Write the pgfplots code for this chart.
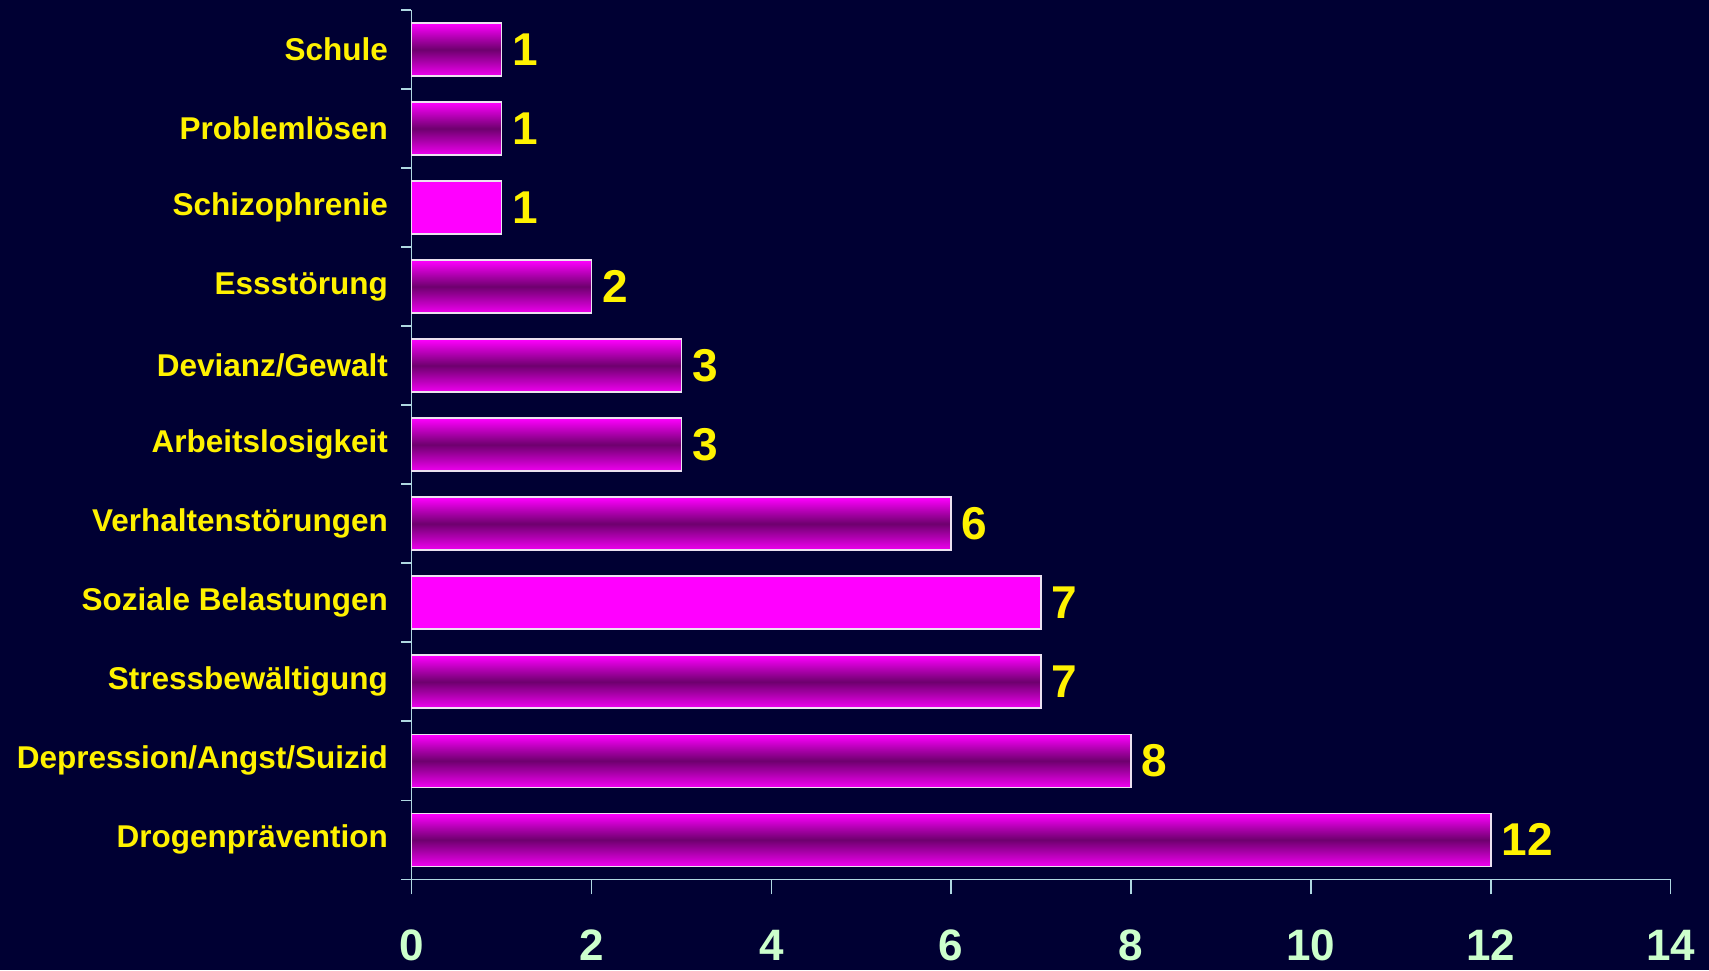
\documentclass[border=0pt]{standalone}
\usepackage{pgfplots}
\pgfplotsset{compat=1.18}
\usepackage{fontspec}
\setmainfont{Liberation Sans}
\definecolor{bg}{RGB}{0,0,51}
\definecolor{axcol}{RGB}{175,215,225}
\definecolor{tickcol}{RGB}{204,255,204}
\definecolor{mag}{RGB}{255,0,255}
\definecolor{magb}{RGB}{240,0,240}
\definecolor{magd}{RGB}{110,0,110}
\definecolor{barline}{RGB}{235,225,240}
\pgfplotsset{gbar/.style={draw=barline, line width=1.5pt, top color=mag, bottom color=magb, middle color=magd}}
\begin{document}
\begin{tikzpicture}
\fill[bg] (-411.5pt,-90.7pt) rectangle (1297.5pt,879.3pt);
\begin{axis}[
  at={(0pt,0pt)}, anchor=south west,
  scale only axis,
  width=1259.2pt, height=869.3pt,
  xmin=0, xmax=14, ymin=-0.5, ymax=10.5,
  axis x line*=bottom, axis y line*=left,
  axis line style={axcol, line width=1.5pt, -},
  xtick={0,2,...,14},
  ytick={0,...,10},
  yticklabels={Drogenprävention,Depression/Angst/Suizid,Stressbewältigung,Soziale Belastungen,Verhaltenstörungen,Arbeitslosigkeit,Devianz/Gewalt,Essstörung,Schizophrenie,Problemlösen,Schule},
  minor ytick={-0.5,0.5,...,10.5},
  tick align=outside,
  major tick length=15pt,
  minor tick length=10pt,
  major x tick style={axcol, line width=1.5pt},
  major y tick style={draw=none},
  minor y tick style={axcol, line width=1.5pt},
  xticklabel style={font=\fontsize{44}{48}\selectfont\bfseries, text=tickcol, anchor=center, yshift=-51pt},
  yticklabel style={font=\fontsize{31.5}{36}\selectfont\bfseries, text=yellow, anchor=east, xshift=-5pt},
  /pgf/number format/assume math mode=true,
  xbar, bar width=53pt, bar shift=0pt,
  nodes near coords,
  nodes near coords style={font=\fontsize{46}{50}\selectfont\bfseries, text=yellow, anchor=west, inner sep=0pt, xshift=10pt},
  clip=false,
]
\addplot[gbar] coordinates {(12,0)};
\addplot[gbar] coordinates {(8,1)};
\addplot[gbar] coordinates {(7,2)};
\addplot[draw=barline, line width=1.5pt, fill=mag] coordinates {(7,3)};
\addplot[gbar] coordinates {(6,4)};
\addplot[gbar] coordinates {(3,5)};
\addplot[gbar] coordinates {(3,6)};
\addplot[gbar] coordinates {(2,7)};
\addplot[draw=barline, line width=1.5pt, fill=mag] coordinates {(1,8)};
\addplot[gbar] coordinates {(1,9)};
\addplot[gbar] coordinates {(1,10)};
\end{axis}
\pgfresetboundingbox
\useasboundingbox (-411.5pt,-90.7pt) rectangle (1297.5pt,879.3pt);
\end{tikzpicture}
\end{document}
